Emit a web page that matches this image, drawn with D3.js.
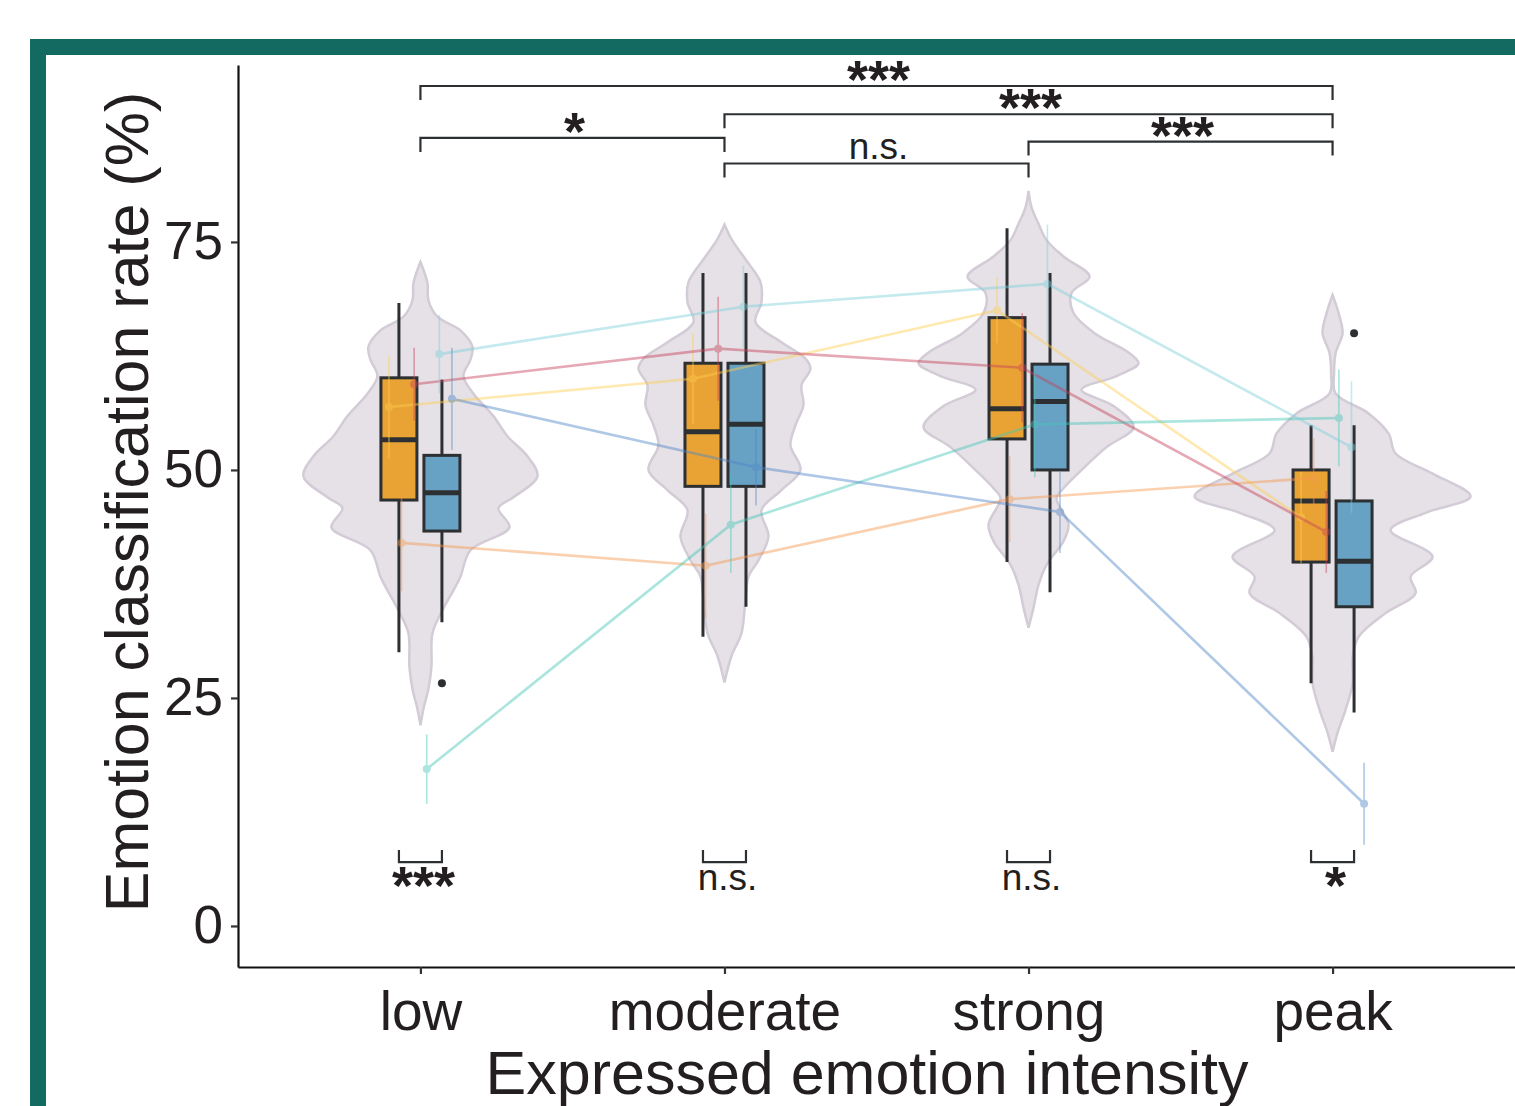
<!DOCTYPE html>
<html>
<head>
<meta charset="utf-8">
<script src="https://cdn.jsdelivr.net/npm/d3@7"></script>
<style>
  body { margin: 0; background: #fff; }
  text { font-family: "Liberation Sans", Arial, sans-serif; fill: #231f20; }
</style>
</head>
<body>
<div id="chart"></div>
<script>
// categories and groups
var categories = ["low", "moderate", "strong", "peak"];
var groups = ["A", "B"];
var groupColors = ["#e9a334", "#67a1c4"];

// box stats per category: [lowerWhisker, q1, median, q3, upperWhisker]
var boxA = [[30.0, 46.7, 53.3, 60.1, 68.3], [31.7, 48.2, 54.2, 61.7, 71.6],
            [39.9, 53.4, 56.7, 66.7, 76.5], [26.6, 39.9, 46.6, 50.0, 54.9]];
var boxB = [[33.3, 43.3, 47.5, 51.6, 59.9], [35.0, 48.2, 55.0, 61.7, 71.6],
            [36.6, 50.0, 57.5, 61.6, 71.6], [23.4, 35.0, 40.0, 46.6, 54.9]];
// outliers: [category, group, value]
var outliers = [["low", "B", 26.6], ["peak", "B", 65.0]];

// violin outlines per category: [value, density]
var violinLow = [[22.0, 0], [23.8, .03], [26.0, .08], [28.4, .11], [32.1, .12], [34.6, .22], [36.8, .33],
  [38.3, .40], [41.2, .50], [43.7, .89], [45.8, .78], [47.0, .93], [49.3, 1.17], [51.5, 1.07], [53.7, .87],
  [55.9, .73], [58.5, .52], [60.3, .43], [62.1, .50], [63.5, .52], [65.3, .40], [66.8, .17], [68.6, .08],
  [70.5, .07], [72.8, 0]];
var violinModerate = [[26.7, 0], [29.6, .07], [32.1, .17], [35.8, .21], [38.3, .24], [40.1, .34], [42.7, .44],
  [45.6, .37], [47.8, .57], [50.0, .76], [52.7, .66], [54.9, .71], [57.1, .79], [59.3, .77], [61.1, .86],
  [62.2, .81], [64.0, .57], [66.2, .31], [68.4, .37], [70.6, .36], [73.1, .21], [75.3, .07], [76.9, 0]];
var violinStrong = [[32.7, 0], [34.9, .05], [37.4, .10], [39.6, .18], [42.2, .35], [44.0, .40], [46.9, .28],
  [48.0, .35], [50.2, .55], [52.5, .78], [54.7, 1.05], [57.0, .85], [58.8, .53], [60.3, .88], [61.7, 1.10],
  [62.8, 1.01], [65.0, .66], [67.2, .45], [69.4, .43], [71.2, .61], [73.4, .35], [75.2, .18], [77.0, .10],
  [78.8, .03], [80.6, 0]];
var violinPeak = [[19.1, 0], [21.2, .05], [23.7, .13], [26.6, .20], [29.5, .20], [31.7, .26], [34.3, .53],
  [36.5, .83], [38.3, .78], [40.5, 1.00], [43.4, .58], [45.3, .93], [47.1, 1.38], [49.6, 1.00], [51.8, .63],
  [54.0, .56], [56.2, .36], [58.4, .03], [60.6, .015], [62.8, .03], [65.0, .10], [67.2, .06], [69.2, 0]];
var violins = [violinLow, violinModerate, violinStrong, violinPeak];

// individual participants: mean per category and error half-width
var subjects = ["S1", "S2", "S3", "S4", "S5", "S6"];
var subjectColors = ["#ffcf50", "#f7984f", "#c8405a", "#45c6b8", "#7dd0dc", "#4f86c9"];
var subjectMeans = [
  [56.9, 60.0, 67.5, 44.8],
  [42.0, 39.5, 46.8, 49.1],
  [59.4, 63.3, 61.2, 43.2],
  [17.2, 44.0, 55.0, 55.7],
  [62.7, 67.9, 70.4, 52.5],
  [57.8, 50.3, 45.4, 13.4]
];
var subjectErr = [
  [5.7, 5.0, 3.6, 5.0],
  [5.3, 5.7, 4.7, 4.4],
  [4.0, 5.7, 6.0, 4.5],
  [3.8, 5.3, 5.8, 5.3],
  [4.3, 4.5, 6.5, 7.2],
  [5.6, 4.2, 4.5, 4.5]
];

// significance between categories: [from, to, label, value]
var sigTop = [["low", "peak", "***", 92.1], ["moderate", "peak", "***", 89.0], ["low", "moderate", "*", 86.4],
              ["strong", "peak", "***", 86.0], ["moderate", "strong", "n.s.", 83.6]];
// significance within category
var sigWithin = ["***", "n.s.", "n.s.", "*"];
var sigWithinValue = 7.0;

var width = 1515, height = 1106;
var svg = d3.select("#chart").append("svg").attr("width", width).attr("height", height);
svg.append("rect").attr("width", width).attr("height", height).attr("fill", "#fff");

// frame
svg.append("rect").attr("x", 30).attr("y", 39).attr("width", width - 30).attr("height", 16).attr("fill", "#126a61");
svg.append("rect").attr("x", 30).attr("y", 39).attr("width", 16).attr("height", height - 39).attr("fill", "#126a61");

var y = d3.scaleLinear().domain([-4.5, 94.4]).range([967, 65]);
var x = d3.scalePoint().domain(categories).range([238, 1515]).padding(0.6);
var dodge = d3.scalePoint().domain(groups).range([-21.5, 21.5]);
var jitter = d3.scalePoint().domain(subjects).range([-31.5, 31.5]);
var dens = d3.scaleLinear().domain([0, 1]).range([0, 100]);
var boxW = 36;
var dark = "#2d3033";

// violins
var area = d3.area().curve(d3.curveCatmullRom)
  .y(function (d) { return y(d[0]); });
violins.forEach(function (v, i) {
  var cx = x(categories[i]);
  area.x0(function (d) { return cx - dens(d[1]); }).x1(function (d) { return cx + dens(d[1]); });
  svg.append("path").attr("d", area(v))
    .attr("fill", "#e5e1e6").attr("stroke", "#d3cbd6").attr("stroke-width", 2.5);
});

// boxes
[boxA, boxB].forEach(function (stats, g) {
  stats.forEach(function (s, i) {
    var cx = x(categories[i]) + dodge(groups[g]);
    var grp = svg.append("g");
    grp.append("line").attr("x1", cx).attr("x2", cx).attr("y1", y(s[0])).attr("y2", y(s[4]))
      .attr("stroke", dark).attr("stroke-width", 3);
    grp.append("rect").attr("x", cx - boxW / 2).attr("width", boxW)
      .attr("y", y(s[3])).attr("height", y(s[1]) - y(s[3]))
      .attr("fill", groupColors[g]).attr("stroke", dark).attr("stroke-width", 3);
    grp.append("line").attr("x1", cx - boxW / 2).attr("x2", cx + boxW / 2).attr("y1", y(s[2])).attr("y2", y(s[2]))
      .attr("stroke", dark).attr("stroke-width", 5);
  });
});
outliers.forEach(function (o) {
  svg.append("circle").attr("cx", x(o[0]) + dodge(o[1])).attr("cy", y(o[2])).attr("r", 4).attr("fill", dark);
});

// participants
subjects.forEach(function (s, k) {
  var pts = categories.map(function (c, i) { return [x(c) + jitter(s), y(subjectMeans[k][i]), i]; });
  var g = svg.append("g").attr("opacity", 0.45);
  g.append("path").attr("d", d3.line()(pts)).attr("fill", "none")
    .attr("stroke", subjectColors[k]).attr("stroke-width", 2.6);
  pts.forEach(function (p) {
    var m = subjectMeans[k][p[2]], e = subjectErr[k][p[2]];
    g.append("line").attr("x1", p[0]).attr("x2", p[0]).attr("y1", y(m - e)).attr("y2", y(m + e))
      .attr("stroke", subjectColors[k]).attr("stroke-width", 1.6);
    g.append("circle").attr("cx", p[0]).attr("cy", p[1]).attr("r", 4).attr("fill", subjectColors[k]);
  });
});

// significance brackets
function labelY(lbl, ly, below) {
  if (lbl.indexOf("*") >= 0) return below ? ly + 42 : ly + 12;
  return below ? ly + 28 : ly - 4;
}
function styleLabel(t, lbl) {
  if (lbl === "n.s.") t.attr("font-size", 37);
  else t.attr("font-size", 54).attr("font-weight", "bold");
}
sigTop.forEach(function (b) {
  var x1 = x(b[0]), x2 = x(b[1]), ly = y(b[3]);
  svg.append("path").attr("d", "M" + x1 + "," + (ly + 14) + "V" + ly + "H" + x2 + "V" + (ly + 14))
    .attr("fill", "none").attr("stroke", dark).attr("stroke-width", 2.2);
  styleLabel(svg.append("text").attr("x", (x1 + x2) / 2 + 2).attr("y", labelY(b[2], ly, false))
    .attr("text-anchor", "middle").text(b[2]), b[2]);
});
sigWithin.forEach(function (lbl, i) {
  var x1 = x(categories[i]) + dodge("A"), x2 = x(categories[i]) + dodge("B"), ly = y(sigWithinValue);
  svg.append("path").attr("d", "M" + x1 + "," + (ly - 12) + "V" + ly + "H" + x2 + "V" + (ly - 12))
    .attr("fill", "none").attr("stroke", dark).attr("stroke-width", 2.2);
  styleLabel(svg.append("text").attr("x", (x1 + x2) / 2 + 3).attr("y", labelY(lbl, ly, true))
    .attr("text-anchor", "middle").text(lbl), lbl);
});

// axes
var yAxis = svg.append("g").attr("transform", "translate(238,0)")
  .call(d3.axisLeft(y).tickValues([0, 25, 50, 75]).tickSize(7).tickSizeOuter(0).tickPadding(8));
var xAxis = svg.append("g").attr("transform", "translate(0,967)")
  .call(d3.axisBottom(x).tickSize(7).tickSizeOuter(0).tickPadding(17));
[yAxis, xAxis].forEach(function (a) {
  a.select(".domain").attr("stroke", "#111").attr("stroke-width", 2.2);
  a.selectAll(".tick line").attr("stroke", "#333").attr("stroke-width", 2.2);
  a.selectAll(".tick text").attr("font-size", 53).attr("fill", "#231f20")
    .attr("font-family", "Liberation Sans, Arial, sans-serif");
});
xAxis.selectAll(".tick text").attr("font-size", 55);

svg.append("text").attr("transform", "translate(148,502) rotate(-90)").attr("text-anchor", "middle")
  .attr("font-size", 61).attr("fill", "#000").text("Emotion classification rate (%)");
svg.append("text").attr("x", 867).attr("y", 1094).attr("text-anchor", "middle")
  .attr("font-size", 61).attr("fill", "#000").text("Expressed emotion intensity");
</script>
</body>
</html>
